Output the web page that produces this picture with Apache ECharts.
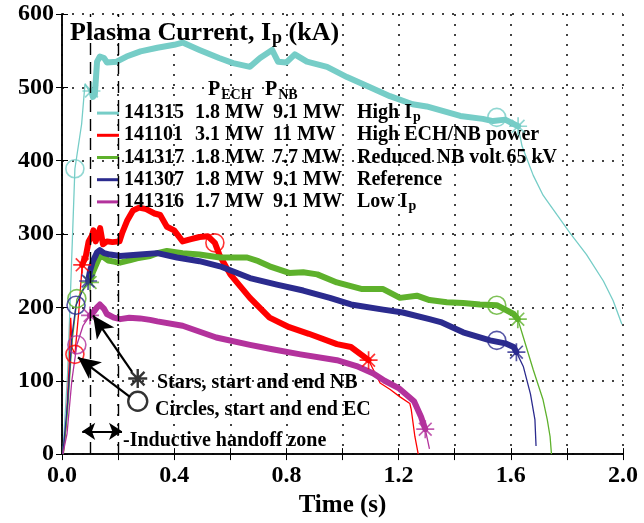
<!DOCTYPE html>
<html><head><meta charset="utf-8">
<script src="https://cdn.jsdelivr.net/npm/echarts@6/dist/echarts.min.js"></script>
<style>html,body{margin:0;padding:0;background:#fff}#c{width:644px;height:523px}</style>
</head><body><div id="c"></div>
<script>
// ---------- data (time s, Ip kA) ----------
const names = ['141315','141101','141317','141307','141316'];
const colors = ['#76cdc7','#ff0000','#5eb12c','#2b2b8e','#b3329c'];
const pECH = ['1.8 MW','3.1 MW','1.8 MW','1.8 MW','1.7 MW'];
const pNB  = ['9.1 MW','11 MW','7.7 MW','9.1 MW','9.1 MW'];
const descMain = ['High I','High ECH/NB power','Reduced NB volt 65 kV','Reference','Low I'];
const descSub  = ['p','','','','p'];
const xTicks = [0,0.4,0.8,1.2,1.6,2.0];
const yTicks = [0,100,200,300,400,500,600];

const s141315_up   = [[0.003,0],[0.02,110],[0.046,389],[0.07,450],[0.082,505],[0.095,496],[0.105,495]];
const s141315_flat = [[0.105,495],[0.11,487],[0.117,490],[0.125,535],[0.135,542],[0.15,540],[0.16,534],[0.195,535],[0.23,542],[0.28,549],[0.34,554],[0.4,558],[0.43,561],[0.49,551],[0.56,540],[0.61,533],[0.67,528],[0.706,540],[0.749,551],[0.77,535],[0.8,534],[0.83,545],[0.873,535],[0.945,528],[1.016,514],[1.098,500],[1.169,488],[1.25,477],[1.3,474],[1.42,461],[1.5,457],[1.537,454],[1.58,456],[1.626,447]];
const s141315_down = [[1.626,447],[1.64,420],[1.68,380],[1.715,353],[1.73,345],[1.765,326],[1.81,302],[1.87,272],[1.93,236],[1.965,209],[1.996,177]];
const s141315_ec = [[0.046,389],[1.55,459]];
const s141315_nb = [[0.105,495],[1.626,447]];

const s141101_up   = [[0.004,0],[0.015,40],[0.026,125],[0.031,186],[0.036,145],[0.046,136],[0.06,195],[0.072,258]];
const s141101_flat = [[0.072,258],[0.085,270],[0.095,290],[0.107,298],[0.112,305],[0.12,290],[0.13,300],[0.136,308],[0.146,286],[0.16,290],[0.18,289],[0.205,290],[0.215,302],[0.232,318],[0.253,332],[0.275,336],[0.3,334],[0.33,328],[0.35,326],[0.374,310],[0.4,305],[0.43,290],[0.46,293],[0.49,296],[0.52,297],[0.545,288],[0.563,270],[0.6,245],[0.67,213],[0.74,186],[0.81,173],[0.88,164],[0.98,150],[1.03,146],[1.093,128]];
const s141101_down = [[1.093,128],[1.11,115],[1.134,97],[1.17,88],[1.205,78],[1.24,69],[1.245,61],[1.258,24],[1.27,0]];
const s141101_ec = [[0.046,136],[0.545,288]];
const s141101_nb = [[0.072,258],[1.093,128]];

const s141317_up   = [[0.005,0],[0.02,60],[0.035,150],[0.053,211],[0.08,228],[0.1,234]];
const s141317_flat = [[0.1,234],[0.11,248],[0.125,261],[0.135,270],[0.15,268],[0.165,264],[0.19,262],[0.207,261],[0.24,264],[0.267,267],[0.314,270],[0.34,274],[0.374,277],[0.43,274],[0.49,272],[0.563,268],[0.66,268],[0.7,263],[0.74,256],[0.81,247],[0.86,248],[0.91,245],[0.98,234],[1.07,225],[1.145,225],[1.205,213],[1.265,216],[1.31,210],[1.372,207],[1.43,206],[1.49,204],[1.55,203],[1.61,191],[1.625,184]];
const s141317_down = [[1.625,184],[1.645,159],[1.68,115],[1.715,74],[1.73,47],[1.74,24],[1.745,0]];
const s141317_ec = [[0.053,212],[1.55,203]];
const s141317_nb = [[0.1,234],[1.625,184]];

const s141307_up   = [[0.003,0],[0.02,70],[0.035,160],[0.05,203],[0.07,220],[0.093,236]];
const s141307_flat = [[0.093,236],[0.1,250],[0.11,263],[0.125,275],[0.135,278],[0.15,274],[0.171,272],[0.207,270],[0.278,272],[0.34,274],[0.41,268],[0.49,263],[0.563,256],[0.67,240],[0.766,231],[0.86,223],[0.955,213],[1.03,204],[1.145,197],[1.215,193],[1.31,184],[1.35,180],[1.43,166],[1.526,155],[1.58,151],[1.61,146],[1.62,139]];
const s141307_down = [[1.62,139],[1.645,119],[1.67,82],[1.686,47],[1.69,11]];
const s141307_ec = [[0.05,203],[1.55,155]];
const s141307_nb = [[0.093,236],[1.62,139]];

const s141316_up   = [[0.003,0],[0.018,28],[0.035,100],[0.053,149],[0.075,175],[0.1,189]];
const s141316_flat = [[0.1,189],[0.115,195],[0.125,200],[0.135,204],[0.15,198],[0.16,191],[0.185,186],[0.207,184],[0.24,186],[0.278,185],[0.314,183],[0.34,181],[0.43,175],[0.55,159],[0.67,149],[0.75,143],[0.85,136],[0.98,128],[1.05,120],[1.11,110],[1.15,100],[1.2,90],[1.255,72],[1.28,51],[1.295,34]];
const s141316_down = [[1.295,34],[1.31,7]];
const s141316_ec = [[0.053,149]];
const s141316_nb = [[0.1,189],[1.295,34]];

const handoff = [0.1, 0.2];
const keyStar = [[0.27,103]];
const keyCircle = [[0.27,72]];
const arrowStar = [[0.25,112],[0.111,189]];
const arrowCircle = [[0.242,78],[0.057,132]];
const arrowHandoff = [[0.072,31],[0.214,31]];

// ---------- chart ----------
const groups = [
  [s141315_up,s141315_flat,s141315_down,s141315_ec,s141315_nb],
  [s141101_up,s141101_flat,s141101_down,s141101_ec,s141101_nb],
  [s141317_up,s141317_flat,s141317_down,s141317_ec,s141317_nb],
  [s141307_up,s141307_flat,s141307_down,s141307_ec,s141307_nb],
  [s141316_up,s141316_flat,s141316_down,s141316_ec,s141316_nb]
];
const FONT = '"Liberation Serif","Times New Roman","DejaVu Serif",serif';
const STAR = 'path://M10,0L10,20M0,10L20,10M2.9,2.9L17.1,17.1M2.9,17.1L17.1,2.9';

const series = [];
groups.forEach((g, i) => {
  const c = colors[i];
  series.push({type:'line', name:names[i], data:g[0].concat(g[1], g[2]), showSymbol:false, symbol:'none',
    lineStyle:{color:c, width:1.3}, itemStyle:{color:c}, z:2, silent:true});
});
groups.forEach((g, i) => {
  const c = colors[i];
  series.push({type:'line', name:names[i], data:g[1], showSymbol:false, symbol:'none',
    lineStyle:{color:c, width:6, join:'round', cap:'round'}, itemStyle:{color:c}, z:3, silent:true});
});
groups.forEach((g, i) => {
  const c = colors[i];
  series.push({type:'scatter', name:names[i], data:g[3], symbol:'circle', symbolSize:18,
    itemStyle:{color:'rgba(0,0,0,0)', borderColor:c, borderWidth:1.6}, z:4, silent:true});
  series.push({type:'scatter', name:names[i], data:g[4], symbol:STAR, symbolSize:18,
    itemStyle:{color:'rgba(0,0,0,0)', borderColor:c, borderWidth:1.7}, z:4, silent:true});
});
// key markers + arrows + handoff lines
series.push({type:'scatter', name:'key', data:keyStar, symbol:STAR, symbolSize:19,
  itemStyle:{color:'rgba(0,0,0,0)', borderColor:'#000', borderWidth:2.4}, z:5, silent:true,
  markLine:{silent:true, animation:false, label:{show:false}, symbol:['none','none'],
    lineStyle:{color:'#000', width:1.4, type:[12,7]},
    data: handoff.map(v => ({xAxis:v}))}});
series.push({type:'scatter', name:'key2', data:keyCircle, symbol:'circle', symbolSize:19,
  itemStyle:{color:'rgba(0,0,0,0)', borderColor:'#000', borderWidth:2.4}, z:5, silent:true,
  markLine:{silent:true, animation:false, label:{show:false}, symbol:['none','arrow'], symbolSize:[16,22],
    lineStyle:{color:'#000', width:2.2, type:'solid'},
    data:[
      [{coord:arrowStar[0], symbol:'none'},{coord:arrowStar[1], symbol:'arrow'}],
      [{coord:arrowCircle[0], symbol:'none'},{coord:arrowCircle[1], symbol:'arrow'}],
      [{coord:arrowHandoff[0], symbol:'arrow', symbolSize:[13,13]},{coord:arrowHandoff[1], symbol:'arrow', symbolSize:[13,13]}]
    ]}});

const chart = echarts.init(document.getElementById('c'), null, {renderer:'canvas'});
const lab = {fontFamily:FONT, fontWeight:'bold', fontSize:24, color:'#000'};
function axisLineCfg(){ return {show:true, lineStyle:{color:'#000', width:1.5}}; }
function axisTickCfg(){ return {show:true, inside:true, length:6, lineStyle:{color:'#000', width:1}}; }
function dottedCfg(){ return {show:true, lineStyle:{color:'#444', width:2, type:[2,8]}}; }
chart.setOption({
  animation:false,
  backgroundColor:'#fff',
  grid:{left:62, right:21, top:14, bottom:65, containLabel:false},
  xAxis:[
    {type:'value', min:0, max:2, interval:0.2, position:'bottom',
      axisLine:axisLineCfg(), axisTick:axisTickCfg(),
      axisLabel:Object.assign({margin:10, formatter:v => (xTicks.some(t => Math.abs(t - v) < 1e-6) ? v.toFixed(1) : '')}, lab),
      splitLine:dottedCfg(),
      name:'Time (s)', nameLocation:'middle', nameGap:35,
      nameTextStyle:{fontFamily:FONT, fontWeight:'bold', fontSize:25, color:'#000'}},
    {type:'value', min:0, max:2, interval:0.2, position:'top', axisLine:axisLineCfg(), axisTick:axisTickCfg(),
      axisLabel:{show:false}, splitLine:{show:false}}
  ],
  yAxis:[
    {type:'value', min:0, max:600, interval:100, position:'left',
      axisLine:axisLineCfg(), axisTick:axisTickCfg(),
      axisLabel:Object.assign({margin:8, formatter:v => (yTicks.indexOf(v) >= 0 ? String(v) : '')}, lab),
      splitLine:dottedCfg()},
    {type:'value', min:0, max:600, interval:100, position:'right', axisLine:axisLineCfg(), axisTick:axisTickCfg(),
      axisLabel:{show:false}, splitLine:{show:false}}
  ],
  legend:{
    show:true, orient:'vertical', left:97, top:102, padding:0, itemGap:0, itemWidth:22, itemHeight:3,
    icon:'rect', selectedMode:false, data:names,
    formatter: function(n){
      const i = names.indexOf(n);
      let s = '{id|' + n + '}{a|' + pECH[i] + '}{b|' + pNB[i] + '}{d|' + descMain[i] + '}';
      if (descSub[i]) s += '{s|' + descSub[i] + '}';
      return s;
    },
    textStyle:{fontFamily:FONT, fontWeight:'bold', fontSize:20, color:'#000', lineHeight:22.2,
      rich:{
        id:{fontFamily:FONT, fontWeight:'bold', fontSize:20, color:'#000', width:71, lineHeight:22.2},
        a:{fontFamily:FONT, fontWeight:'bold', fontSize:20, color:'#000', width:78, lineHeight:22.2},
        b:{fontFamily:FONT, fontWeight:'bold', fontSize:20, color:'#000', width:84, lineHeight:22.2},
        d:{fontFamily:FONT, fontWeight:'bold', fontSize:20, color:'#000', lineHeight:22.2},
        s:{fontFamily:FONT, fontWeight:'bold', fontSize:14, color:'#000', lineHeight:14, padding:[8,0,0,1]}
      }}
  },
  graphic:[
    {type:'text', x:70, y:33, z:10, style:{text:'{m|Plasma Current, I}{s|p}{m| (kA)}', verticalAlign:'middle',
      rich:{m:{fontFamily:FONT, fontWeight:'bold', fontSize:26, fill:'#000', lineHeight:26},
            s:{fontFamily:FONT, fontWeight:'bold', fontSize:18, fill:'#000', lineHeight:18, padding:[10,0,0,1]}}}},
    {type:'text', x:208, y:90, z:10, style:{text:'{m|P}{s|ECH}', verticalAlign:'middle',
      rich:{m:{fontFamily:FONT, fontWeight:'bold', fontSize:20, fill:'#000', lineHeight:20},
            s:{fontFamily:FONT, fontWeight:'bold', fontSize:14, fill:'#000', lineHeight:14, padding:[10,0,0,1]}}}},
    {type:'text', x:265, y:90, z:10, style:{text:'{m|P}{s|NB}', verticalAlign:'middle',
      rich:{m:{fontFamily:FONT, fontWeight:'bold', fontSize:20, fill:'#000', lineHeight:20},
            s:{fontFamily:FONT, fontWeight:'bold', fontSize:14, fill:'#000', lineHeight:14, padding:[10,0,0,1]}}}},
    {type:'text', x:157, y:383, z:10, style:{text:'Stars, start and end NB', verticalAlign:'middle', fill:'#000',
      font:'bold 20px ' + FONT}},
    {type:'text', x:155, y:410, z:10, style:{text:'Circles, start and end EC', verticalAlign:'middle', fill:'#000',
      font:'bold 20px ' + FONT}},
    {type:'text', x:123, y:441, z:10, style:{text:'-Inductive handoff zone', verticalAlign:'middle', fill:'#000',
      font:'bold 20px ' + FONT}}
  ],
  series: series
});
</script></body></html>
